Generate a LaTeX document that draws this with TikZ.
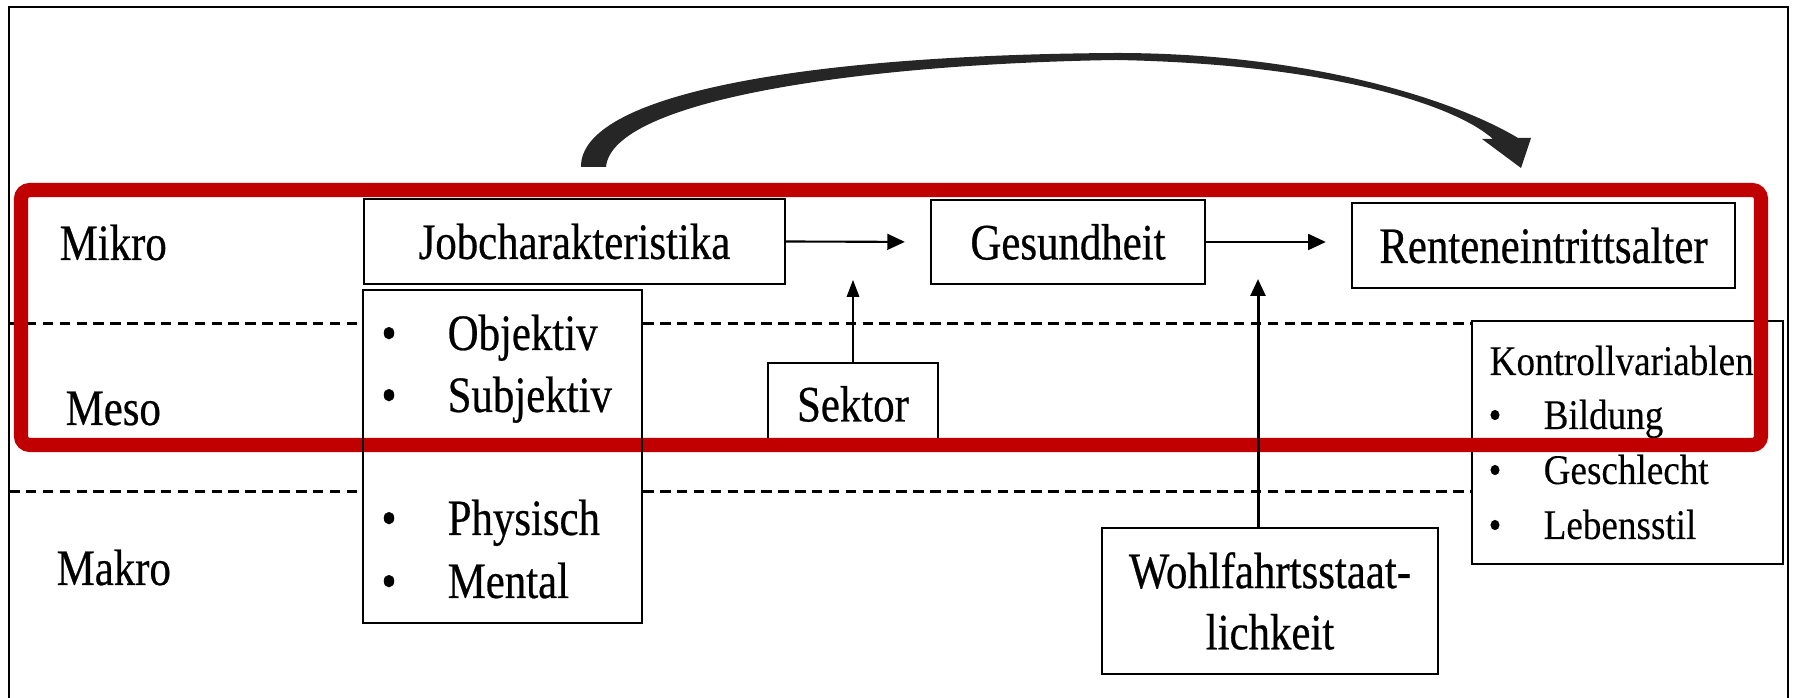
\documentclass[tikz,border=0pt]{standalone}
\usepackage{fontspec}
\setmainfont{Liberation Serif}
\newfontfamily\bigf[FakeStretch=0.84,FakeBold=0.5]{Liberation Serif}
\newfontfamily\smallf[FakeStretch=0.88,FakeBold=0.2]{Liberation Serif}
\usetikzlibrary{arrows.meta}
\definecolor{redframe}{RGB}{192,0,0}
\definecolor{arrowgray}{RGB}{38,38,38}
\pgfdeclarelayer{front}
\pgfsetlayers{main,front}
\begin{document}
\begin{tikzpicture}[x=0.01cm, y=-0.01cm,
  bigfont/.style={font=\bigf\fontsize{14.5pt}{17.4pt}\selectfont},
  box/.style={draw, line width=0.6pt, inner sep=0pt, bigfont},
  lbl/.style={anchor=base west, inner sep=0pt, bigfont},
  bul/.style={anchor=base, inner sep=0pt, bigfont},
  slbl/.style={anchor=base west, inner sep=0pt, font=\smallf\fontsize{12pt}{14pt}\selectfont},
  sbul/.style={anchor=base, inner sep=0pt, font=\smallf\fontsize{12pt}{14pt}\selectfont},
  levelline/.style={line width=0.85pt, dash pattern=on 3pt off 1.8pt},
  harrow/.style={line width=0.6pt, -{Triangle[length=5pt, width=4.5pt]}, shorten >=0.25cm},
  thinarrow/.style={line width=0.3pt, -{Triangle[length=4.8pt, width=3.6pt]}},
  wharrow/.style={line width=0.85pt, -{Triangle[length=4.8pt, width=4.2pt]}},
  redbox/.style={line width=4pt, draw=redframe, rounded corners=2.5pt}
]
\useasboundingbox (0,0) rectangle (1793,698);
% frame
\draw[line width=0.5pt] (9,698) -- (9,7);
\draw[line width=0.8pt] (8,7) -- (1789,7);
\draw[line width=0.5pt] (1788,7) -- (1788,698);

% boxes
\node[box, minimum width=4.21cm, minimum height=0.85cm] (job) at (574.5,241.5) {Jobcharakteristika};
\node[box, minimum width=2.74cm, minimum height=0.84cm] (ges) at (1068,242) {Gesundheit};
\node[box, minimum width=3.83cm, minimum height=0.85cm] (rente) at (1543.5,245.5) {Renteneintrittsalter};
\node[box, minimum width=1.70cm, minimum height=0.82cm] (sektor) at (853,404) {Sektor};
\node[box, minimum width=3.11cm, minimum height=2.43cm] (kontroll) at (1627.5,442.5) {};
\node[box, align=center, minimum width=3.36cm, minimum height=1.46cm] (wohl) at (1270,601) {Wohlfahrtsstaat-\\lichkeit};
\begin{pgfonlayer}{front}
\node[box, minimum width=2.79cm, minimum height=3.33cm] (dims) at (502.5,456.5) {};
\end{pgfonlayer}

% level labels
\node[lbl] (mikro) at (59,260) {Mikro};
\node[lbl] (meso) at (65,425) {Meso};
\node[lbl] (makro) at (56,585) {Makro};

% dims texts
\node[bul] (b1) at (389,350) {•};
\node[lbl] (t1) at (447,350) {Objektiv};
\node[bul] (b2) at (389,412) {•};
\node[lbl] (t2) at (447,412) {Subjektiv};
\node[bul] (b3) at (389,535) {•};
\node[lbl] (t3) at (447,535) {Physisch};
\node[bul] (b4) at (389,598) {•};
\node[lbl] (t4) at (447,598) {Mental};

% control texts
\node[slbl] (kt) at (1489,375) {Kontrollvariablen};
\node[sbul] (kb1) at (1495,429) {•};
\node[slbl] (k1) at (1543,429) {Bildung};
\node[sbul] (kb2) at (1495,484) {•};
\node[slbl] (k2) at (1543,484) {Geschlecht};
\node[sbul] (kb3) at (1495,539) {•};
\node[slbl] (k3) at (1543,539) {Lebensstil};

% level separators
\coordinate (L1) at (9,324);
\coordinate (L2) at (9,492);
\draw[levelline] (L1) -- (L1 -| dims.west);
\draw[levelline] (L1 -| dims.east) -- (L1 -| kontroll.west);
\draw[levelline] (L2) -- (L2 -| dims.west);
\draw[levelline] (L2 -| dims.east) -- (L2 -| kontroll.west);

% connectors
\draw[harrow] (job.east) -- (ges.west);
\draw[harrow] (ges.east) -- (ges.east -| rente.west);
\coordinate (sTip) at (853,280);
\draw[thinarrow] (sektor.north) -- (sTip);

% big curved arrow
\fill[arrowgray] (581,167) .. controls (580,95) and (800,55) .. (1116,53)
  .. controls (1310,53) and (1455,100) .. (1518,138)
  -- (1531,138) -- (1521,168) -- (1482,139) -- (1493,139)
  .. controls (1455,105) and (1330,64) .. (1116,60)
  .. controls (860,64) and (612,100) .. (606,167) -- cycle;

% red frame
\draw[redbox] (21,190) rectangle (1761,445);

\begin{pgfonlayer}{front}
\coordinate (wTip) at (1258,279);
\draw[wharrow] (wTip |- wohl.north) -- (wTip);
\end{pgfonlayer}
\end{tikzpicture}
\end{document}
